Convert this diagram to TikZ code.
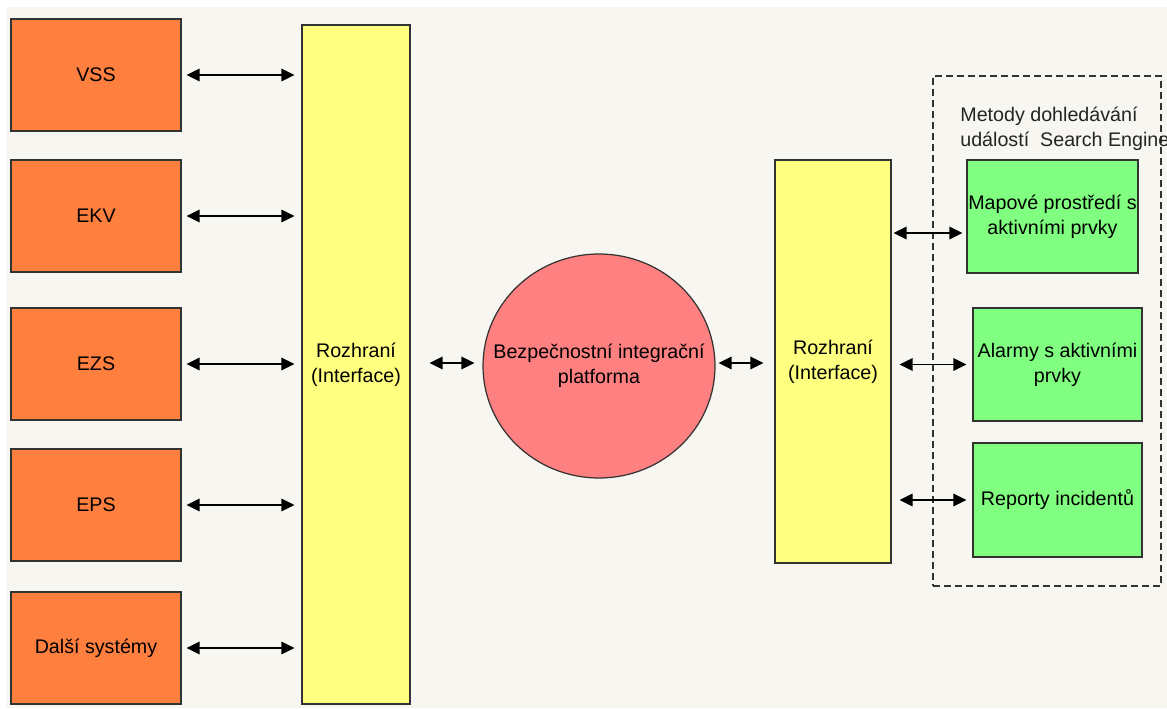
\documentclass[tikz,border=0pt]{standalone}
\usepackage{fontspec}
\setmainfont{Liberation Sans}
\usetikzlibrary{positioning}
\usetikzlibrary{arrows.meta}
\usetikzlibrary{shapes.geometric}
\tikzset{>={Triangle[width=2.5mm,length=2.6mm]}}
\definecolor{bgbeige}{HTML}{F8F6F0}
\definecolor{sysorange}{HTML}{FF7F3F}
\definecolor{ifyellow}{HTML}{FFFF80}
\definecolor{corered}{HTML}{FF8080}
\definecolor{outgreen}{HTML}{80FF80}
\definecolor{edgegray}{HTML}{333333}
\tikzset{
    sysbox/.style={draw=edgegray, line width=0.7pt, fill=sysorange, minimum width=3.4cm, minimum height=2.24cm, inner sep=0pt},
    ifbox/.style={draw=edgegray, line width=0.7pt, fill=ifyellow, align=center, inner sep=0pt},
    outbox/.style={draw=edgegray, line width=0.7pt, fill=outgreen, align=center, minimum height=2.26cm, inner sep=0pt},
    link/.style={draw, <->, line width=0.9pt}
}

\begin{document}
\begin{tikzpicture}[font=\fontsize{11.2}{14.2}\selectfont]
    \useasboundingbox (0,0) rectangle (23.34,14.16);
    \fill [bgbeige] (0.12,0) rectangle (23.34,14.02);

    % source systems
    \node (vss) at (1.92,12.66) [sysbox] {VSS};
    \node (ekv) at (1.92,9.84) [sysbox] {EKV};
    \node (ezs) at (1.92,6.88) [sysbox] {EZS};
    \node (eps) at (1.92,4.06) [sysbox] {EPS};
    \node (dalsi) at (1.92,1.2) [sysbox] {Další systémy};

    % interfaces and platform
    \node (ifl) at (7.12,6.87) [ifbox, minimum width=2.16cm, minimum height=13.58cm] {Rozhraní\\(Interface)};
    \node (core) at (11.98,6.84) [ellipse, draw=edgegray, line width=0.7pt, fill=corered, minimum width=4.64cm, minimum height=4.48cm, inner sep=0pt,
        label={[align=center]center:{Bezpečnostní integrační\\platforma}}] {};
    \node (ifr) at (16.66,6.93) [ifbox, minimum width=2.32cm, minimum height=8.06cm] {Rozhraní\\(Interface)};

    % search engine group
    \node (group) at (20.94,7.54) [draw=edgegray, line width=0.7pt, dash pattern=on 0.14cm off 0.08cm, minimum width=4.56cm, minimum height=10.2cm] {};
    \node (grouplabel) at (19.2,11.58) [anchor=west, align=left, inner sep=0pt, text=edgegray!70!black] {Metody dohledávání\\událostí \ Search Engine};
    \node (map) at (21.05,9.83) [outbox, minimum width=3.42cm] {Mapové prostředí s\\aktivními prvky};
    \node (alarm) at (21.15,6.87) [outbox, minimum width=3.38cm] {Alarmy s aktivními\\prvky};
    \node (report) at (21.15,4.16) [outbox, minimum width=3.38cm, minimum height=2.28cm] {Reporty incidentů};

    \path [link, shorten <=0.1cm, shorten >=0.14cm] (vss.east) -- (vss.east -| ifl.west);
    \path [link, shorten <=0.1cm, shorten >=0.14cm] (ekv.east) -- (ekv.east -| ifl.west);
    \path [link, shorten <=0.1cm, shorten >=0.14cm] (ezs.east) -- (ezs.east -| ifl.west);
    \path [link, shorten <=0.1cm, shorten >=0.14cm] (eps.east) -- (eps.east -| ifl.west);
    \path [link, shorten <=0.1cm, shorten >=0.14cm] (dalsi.east) -- (dalsi.east -| ifl.west);
    \path [link, shorten <=0.38cm, shorten >=0.16cm] ([yshift=0.06cm]ifl.east |- core.west) -- ([yshift=0.06cm]core.west);
    \path [link, shorten <=0.06cm, shorten >=0.22cm] ([yshift=0.06cm]core.east) -- ([yshift=0.06cm]core.east -| ifr.west);
    \path [link, shorten <=0.04cm, shorten >=0.08cm] ([yshift=-0.33cm]ifr.east |- map.west) -- ([yshift=-0.33cm]map.west);
    \path [link, shorten <=0.16cm, shorten >=0.12cm] (ifr.east |- alarm.west) -- (alarm.west);
    \path [link, shorten <=0.16cm, shorten >=0.12cm] (ifr.east |- report.west) -- (report.west);
\end{tikzpicture}
\end{document}
